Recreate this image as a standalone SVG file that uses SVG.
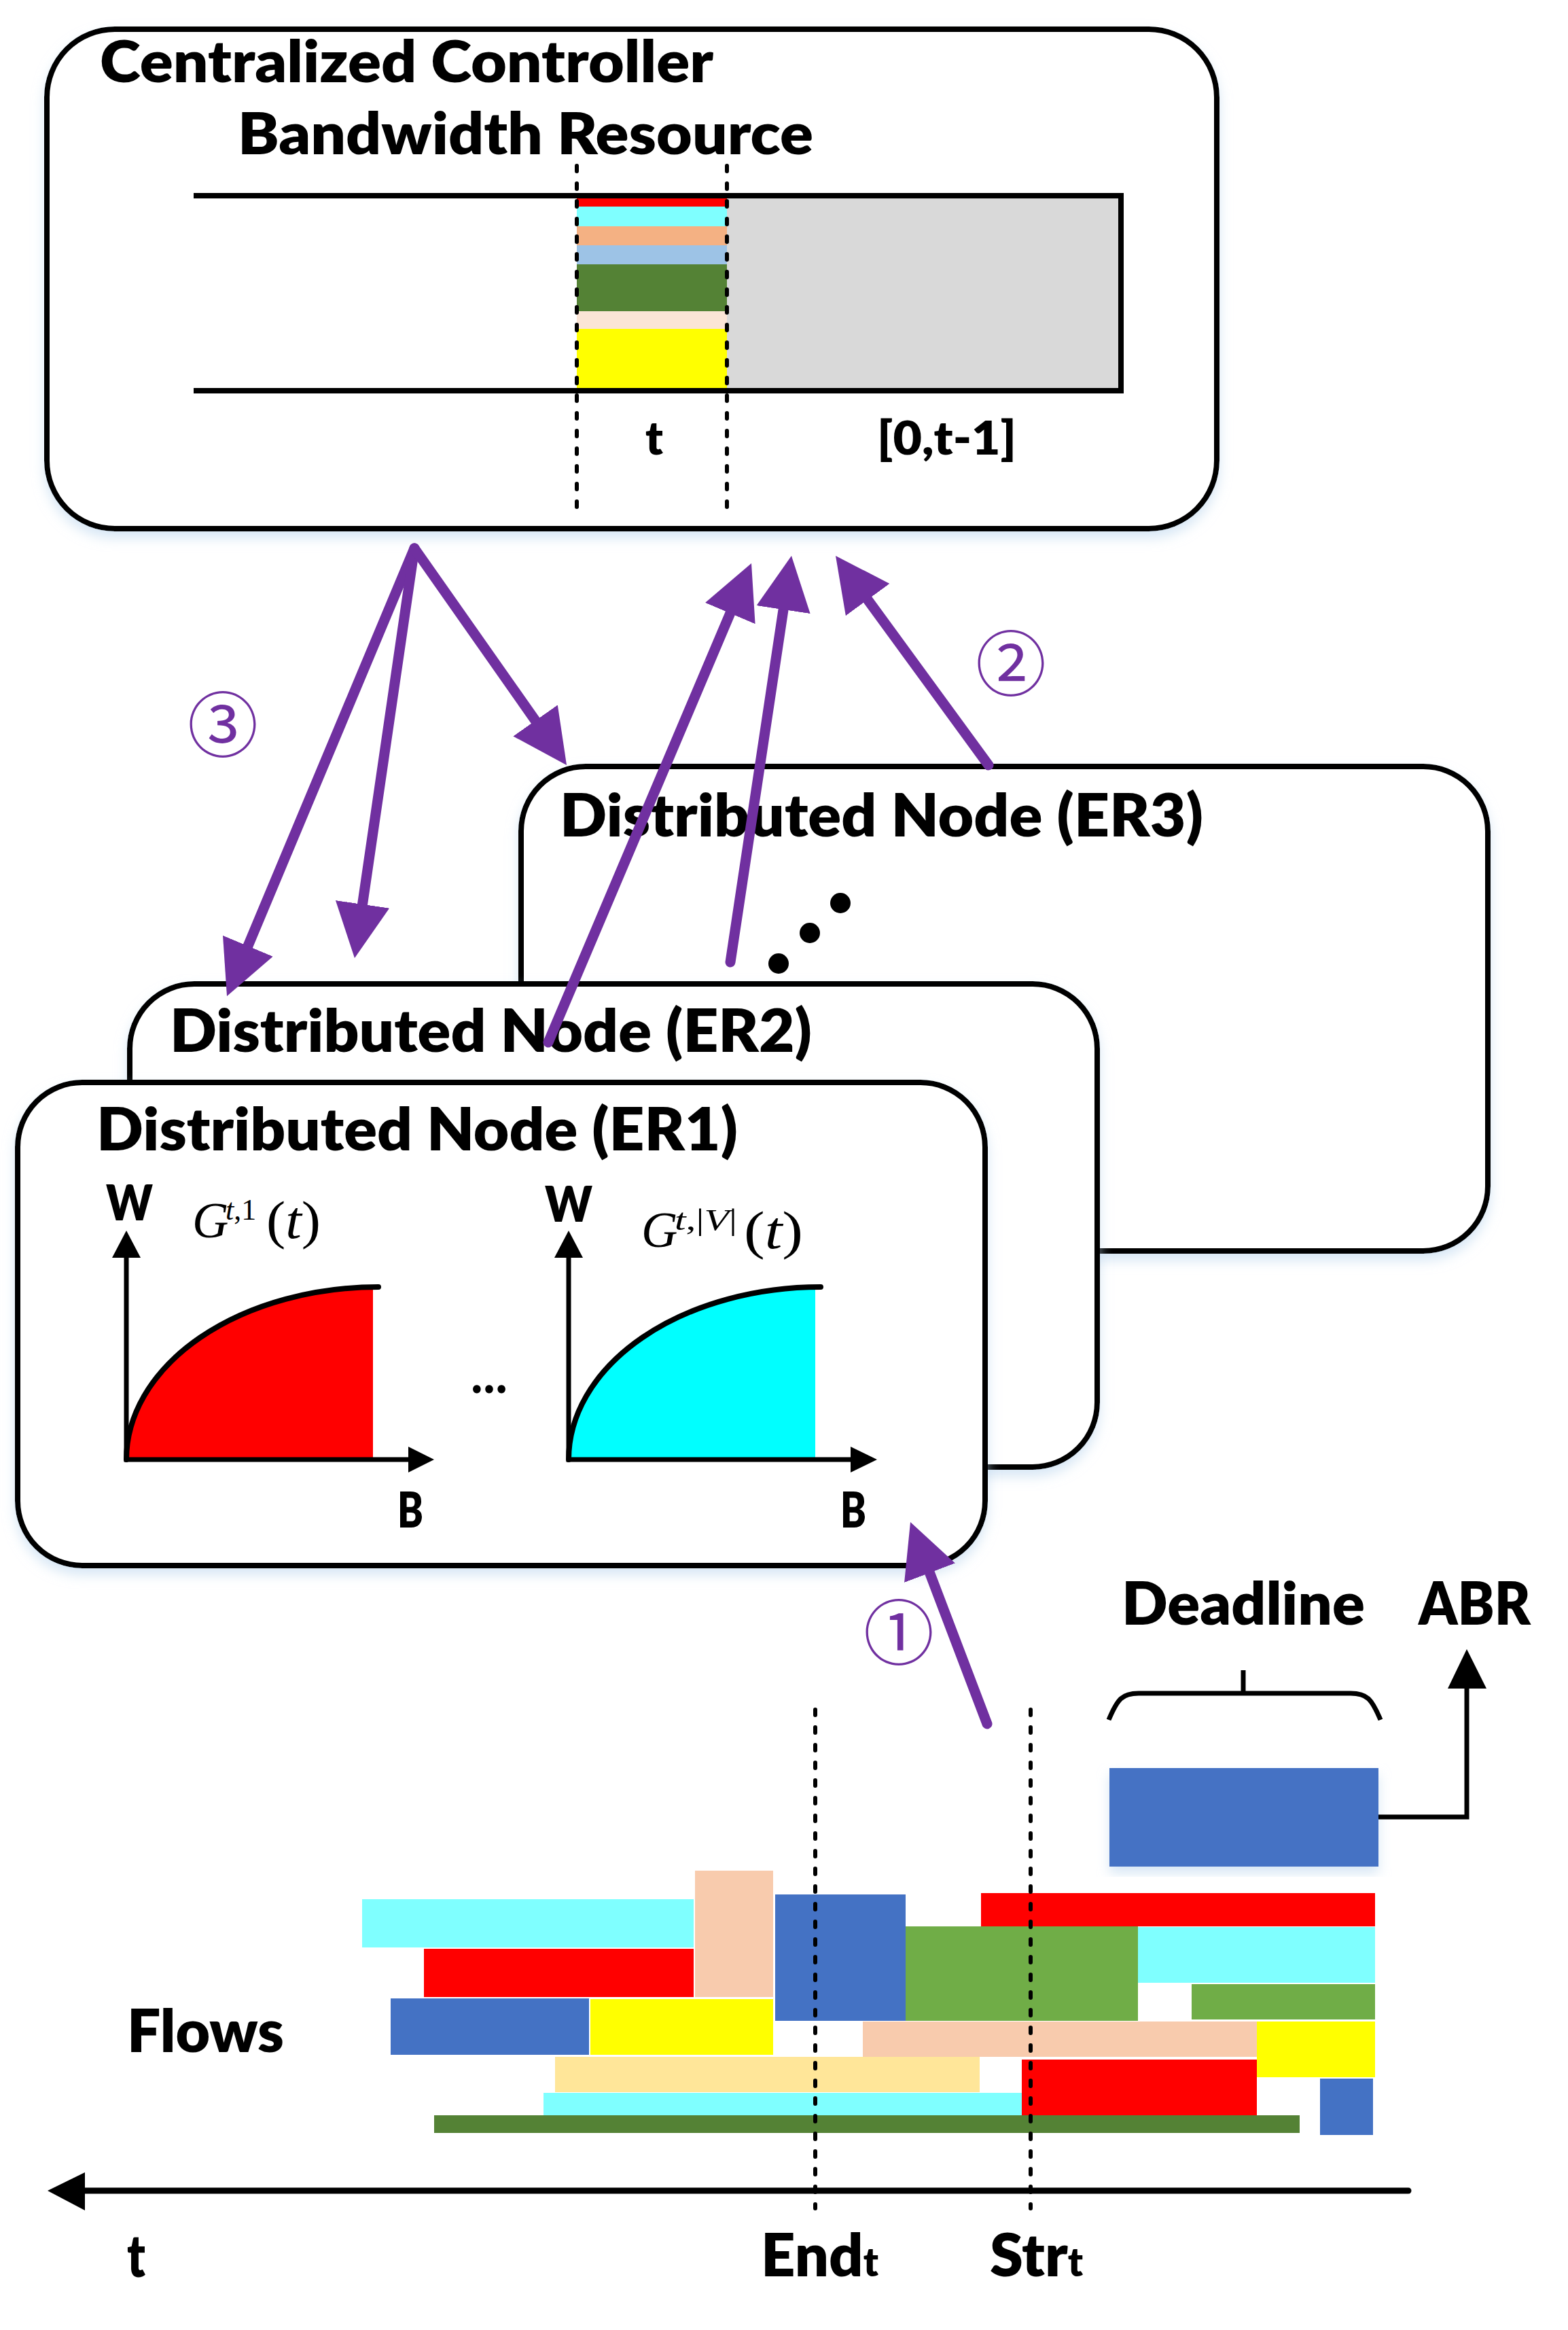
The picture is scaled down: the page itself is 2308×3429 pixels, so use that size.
<svg xmlns="http://www.w3.org/2000/svg" width="2308" height="3429" viewBox="0 0 2308 3429">
<style>
.box{fill:#fff;stroke:#000;stroke-width:8}
.lbl{font-family:Lato,"Open Sans","Liberation Sans",sans-serif;font-weight:800;fill:#000}
.math{font-family:"Liberation Serif","DejaVu Serif",serif;fill:#000}
.circ{font-family:"Noto Sans CJK SC","Noto Sans CJK JP",sans-serif;fill:#7030A0;text-anchor:middle}
.dash{stroke:#000;stroke-width:6;stroke-dasharray:8 18;stroke-linecap:round;fill:none}
.pl{stroke:#7030A0;stroke-width:15;stroke-linecap:round;fill:none;marker-end:url(#pa)}
.axis{stroke:#000;stroke-width:7;fill:none}
.curve{stroke:#000;stroke-width:8;fill:none;stroke-linecap:round}
.ah{fill:#000}
</style>
<defs>
<marker id="pa" markerUnits="userSpaceOnUse" markerWidth="80" markerHeight="80" viewBox="0 0 80 80" refX="50" refY="40" orient="auto">
<path d="M0,0 L80,40 L0,80 Z" fill="#7030A0"/>
</marker>
<filter id="sh" x="-5%" y="-5%" width="110%" height="115%">
<feDropShadow dx="0" dy="10" stdDeviation="9" flood-color="#BDD7EE" flood-opacity="0.6"/>
</filter>
</defs>
<rect width="2308" height="3429" fill="#fff"/>

<g id="controller">
<rect class="box" x="69" y="43" width="1722" height="735" rx="100" ry="100" filter="url(#sh)"/>
<text class="lbl" x="147" y="121" font-size="86" textLength="903" lengthAdjust="spacingAndGlyphs">Centralized Controller</text>
<text class="lbl" x="350" y="227" font-size="86" textLength="847" lengthAdjust="spacingAndGlyphs">Bandwidth Resource</text>
<g id="bandwidth">
<rect x="1070" y="292" width="576" height="280" fill="#D9D9D9"/>
<rect x="849" y="292" width="221" height="12" fill="#FF0000"/>
<rect x="849" y="304" width="221" height="29" fill="#7FFFFF"/>
<rect x="849" y="333" width="221" height="28" fill="#F4B183"/>
<rect x="849" y="361" width="221" height="28" fill="#9DC3E6"/>
<rect x="849" y="389" width="221" height="69" fill="#548235"/>
<rect x="849" y="458" width="221" height="26" fill="#FBE5D6"/>
<rect x="849" y="484" width="221" height="88" fill="#FFFF00"/>
<path d="M285,288 H1650 V575 H285" stroke="#000" stroke-width="8" fill="none"/>
<line class="dash" x1="849" y1="244" x2="849" y2="752"/>
<line class="dash" x1="1070" y1="244" x2="1070" y2="752"/>
</g>
<text class="lbl" x="950" y="669" font-size="68" textLength="26" lengthAdjust="spacingAndGlyphs">t</text>
<text class="lbl" x="1291" y="669" font-size="68" textLength="205" lengthAdjust="spacingAndGlyphs">[0,t-1]</text>
</g>

<g id="er3">
<rect class="box" x="767" y="1128" width="1423" height="713" rx="95" ry="95" filter="url(#sh)"/>
<text class="lbl" x="824" y="1231" font-size="88" textLength="947" lengthAdjust="spacingAndGlyphs">Distributed Node (ER3)</text>
<circle cx="1237" cy="1329" r="15" fill="#000"/>
<circle cx="1192" cy="1373" r="15" fill="#000"/>
<circle cx="1146" cy="1418" r="15" fill="#000"/>
</g>

<g id="er2">
<rect class="box" x="191" y="1448" width="1424" height="711" rx="95" ry="95" filter="url(#sh)"/>
<text class="lbl" x="250" y="1548" font-size="88" textLength="945" lengthAdjust="spacingAndGlyphs">Distributed Node (ER2)</text>
</g>

<g id="er1">
<rect class="box" x="26" y="1593" width="1424" height="711" rx="95" ry="95" filter="url(#sh)"/>
<text class="lbl" x="142" y="1693" font-size="88" textLength="944" lengthAdjust="spacingAndGlyphs">Distributed Node (ER1)</text>
<g id="chart1">
<path d="M186,2148 A371,254 0 0 1 549,1894.2 L549,2148 Z" fill="#FF0000"/>
<path class="curve" d="M186,2148 A371,254 0 0 1 557,1894"/>
<path class="axis" d="M186,1851 V2148 H601"/>
<polygon class="ah" points="186,1811 165,1851 207,1851"/>
<polygon class="ah" points="639,2148 601,2129 601,2167"/>
<text class="lbl" x="156" y="1796" font-size="72" textLength="69" lengthAdjust="spacingAndGlyphs">W</text>
<text class="lbl" x="585" y="2248" font-size="72" textLength="38" lengthAdjust="spacingAndGlyphs">B</text>
<text class="math" x="283" y="1821" font-size="74" font-style="italic">G</text>
<text class="math" x="332" y="1795" font-size="44"><tspan font-style="italic">t</tspan>,1</text>
<text class="math" x="392" y="1822" font-size="78" textLength="80" lengthAdjust="spacingAndGlyphs">(<tspan font-style="italic">t</tspan>)</text>
</g>
<text class="lbl" x="694" y="2050" font-size="72" textLength="52" lengthAdjust="spacingAndGlyphs">…</text>
<g id="chart2">
<path d="M837,2148 A371,254 0 0 1 1200,1894.2 L1200,2148 Z" fill="#00FFFF"/>
<path class="curve" d="M837,2148 A371,254 0 0 1 1208,1894"/>
<path class="axis" d="M837,1851 V2148 H1252"/>
<polygon class="ah" points="837,1811 816,1851 858,1851"/>
<polygon class="ah" points="1291,2148 1252,2129 1252,2167"/>
<text class="lbl" x="802" y="1798" font-size="72" textLength="70" lengthAdjust="spacingAndGlyphs">W</text>
<text class="lbl" x="1237" y="2248" font-size="72" textLength="38" lengthAdjust="spacingAndGlyphs">B</text>
<text class="math" x="944" y="1835" font-size="74" font-style="italic">G</text>
<text class="math" x="993" y="1810" font-size="44" textLength="92" lengthAdjust="spacingAndGlyphs"><tspan font-style="italic">t</tspan>,|<tspan font-style="italic">V</tspan>|</text>
<text class="math" x="1095" y="1837" font-size="78" textLength="87" lengthAdjust="spacingAndGlyphs">(<tspan font-style="italic">t</tspan>)</text>
</g>
</g>

<g id="deadline">
<text class="lbl" x="1651" y="2391" font-size="88" textLength="358" lengthAdjust="spacingAndGlyphs">Deadline</text>
<path d="M1632,2531 C1645,2500 1652,2492 1676,2492 L1988,2492 C2012,2492 2019,2500 2032,2531" stroke="#000" stroke-width="7" fill="none"/>
<line x1="1830" y1="2492" x2="1830" y2="2458" stroke="#000" stroke-width="7"/>
<rect x="1633" y="2602" width="396" height="145" fill="#4472C4" filter="url(#sh)"/>
</g>
<g id="abr">
<text class="lbl" x="2088" y="2391" font-size="88" textLength="165" lengthAdjust="spacingAndGlyphs">ABR</text>
</g>

<g id="flows">
<rect x="533" y="2795" width="488" height="71" fill="#7FFFFF"/>
<rect x="1023" y="2753" width="115" height="186" fill="#F8CBAD"/>
<rect x="624" y="2868" width="397" height="71" fill="#FF0000"/>
<rect x="1141" y="2788" width="192" height="186" fill="#4472C4"/>
<rect x="1444" y="2786" width="580" height="49" fill="#FF0000"/>
<rect x="1333" y="2835" width="342" height="139" fill="#70AD47"/>
<rect x="1675" y="2836" width="349" height="82" fill="#7FFFFF"/>
<rect x="1754" y="2920" width="270" height="52" fill="#70AD47"/>
<rect x="575" y="2941" width="292" height="83" fill="#4472C4"/>
<rect x="869" y="2942" width="269" height="82" fill="#FFFF00"/>
<rect x="1270" y="2975" width="580" height="52" fill="#F8CBAD"/>
<rect x="1850" y="2975" width="174" height="82" fill="#FFFF00"/>
<rect x="817" y="3027" width="625" height="52" fill="#FFE699"/>
<rect x="1504" y="3031" width="346" height="82" fill="#FF0000"/>
<rect x="800" y="3080" width="704" height="33" fill="#7FFFFF"/>
<rect x="1943" y="3059" width="78" height="83" fill="#4472C4"/>
<rect x="639" y="3113" width="1274" height="26" fill="#548235"/>
<text class="lbl" x="187" y="3020" font-size="88" textLength="231" lengthAdjust="spacingAndGlyphs">Flows</text>
</g>

<g id="timeline">
<line x1="120" y1="3224" x2="2073" y2="3224" stroke="#000" stroke-width="9" stroke-linecap="round"/>
<polygon class="ah" points="70,3224 125,3197 125,3253"/>
<line class="dash" x1="1200" y1="2516" x2="1200" y2="3250"/>
<line class="dash" x1="1517" y1="2516" x2="1517" y2="3250"/>
<text class="lbl" x="187" y="3351" font-size="88" textLength="27" lengthAdjust="spacingAndGlyphs">t</text>
<text class="lbl" x="1120" y="3350" font-size="88" textLength="173" lengthAdjust="spacingAndGlyphs">End<tspan font-size="58">t</tspan></text>
<text class="lbl" x="1457" y="3350" font-size="88" textLength="137" lengthAdjust="spacingAndGlyphs">Str<tspan font-size="58">t</tspan></text>
</g>

<g id="connectors">
<path d="M2029,2674 H2159 V2485" stroke="#000" stroke-width="7" fill="none"/>
<polygon class="ah" points="2159,2427 2131,2485 2188,2485"/>
<line class="pl" x1="610" y1="807" x2="345.6" y2="1438.3"/>
<line class="pl" x1="610" y1="807" x2="526.3" y2="1380.3"/>
<line class="pl" x1="610" y1="807" x2="816.8" y2="1101.4"/>
<line class="pl" x1="807" y1="1534" x2="1094.3" y2="856.6"/>
<line class="pl" x1="1075" y1="1416" x2="1160.5" y2="847.7"/>
<line class="pl" x1="1455" y1="1126" x2="1247.7" y2="842.2"/>
<line class="pl" x1="1453" y1="2537" x2="1350.7" y2="2268"/>
<text class="circ" x="328" y="1060" font-size="104" dominant-baseline="central">③</text>
<text class="circ" x="1488" y="970" font-size="104" dominant-baseline="central">②</text>
<text class="circ" x="1323" y="2396" font-size="104" dominant-baseline="central">①</text>
</g>
</svg>
